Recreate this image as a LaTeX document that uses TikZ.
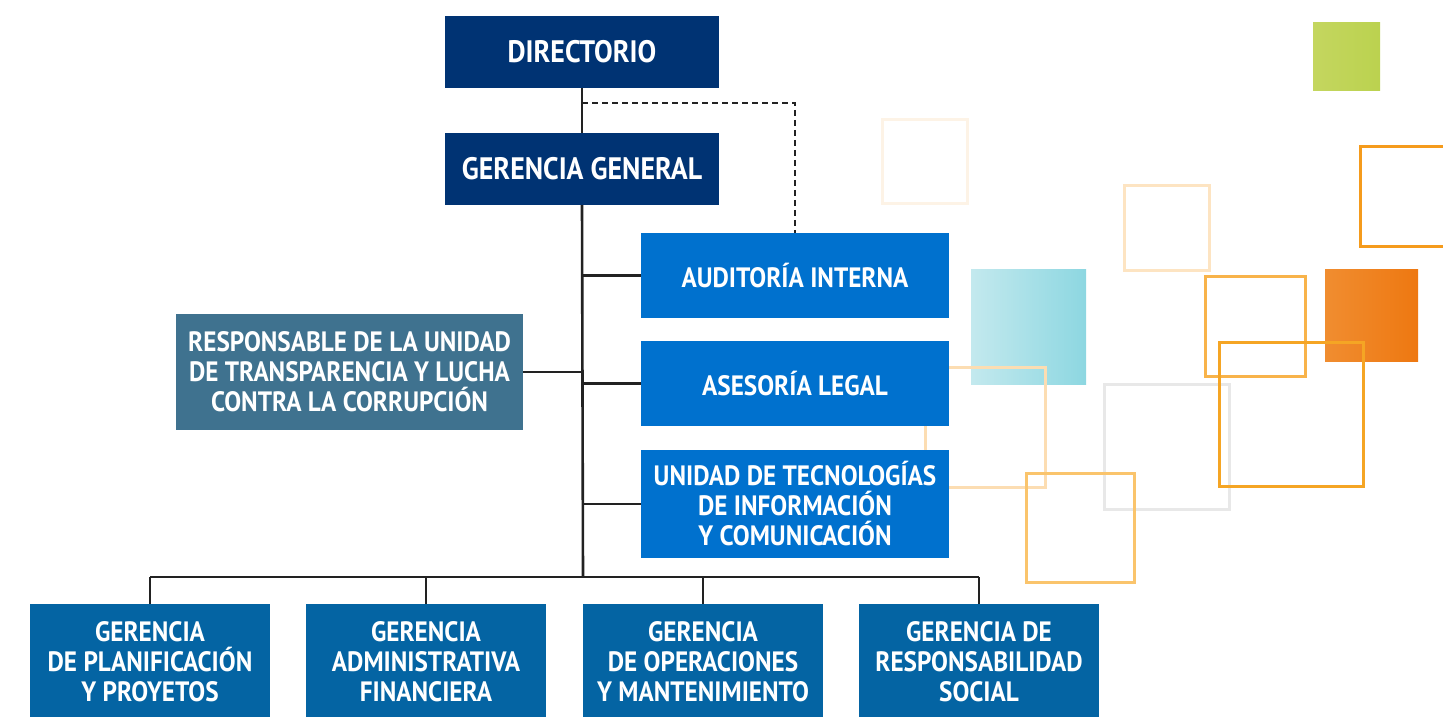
\documentclass[tikz,border=0pt]{standalone}
\usepackage{fontspec}
\setmainfont{PT Sans}[FakeStretch=0.9]
\usepackage{tikz}
\usetikzlibrary{
  calc,
  positioning
}
\definecolor{navyblue}{RGB}{0,51,115}
\definecolor{brightblue}{RGB}{0,113,206}
\definecolor{steelblue}{RGB}{63,114,143}
\definecolor{mgmtblue}{RGB}{4,100,163}
\definecolor{linkgray}{RGB}{34,34,34}
\definecolor{palepeach}{RGB}{253,243,230}
\definecolor{lightpeach}{RGB}{253,228,194}
\definecolor{softpeach}{RGB}{252,221,178}
\definecolor{deeporange}{RGB}{245,155,28}
\definecolor{midorange}{RGB}{248,179,74}
\definecolor{warmorange}{RGB}{245,165,36}
\definecolor{sandorange}{RGB}{250,196,108}
\definecolor{pearlgray}{RGB}{232,232,232}

\begin{document}
\begin{tikzpicture}[
  x=1pt, y=-1pt,
  box/.style={inner sep=0pt, outer sep=0pt, align=center, text=white,
              font=\fontsize{28}{30}\selectfont\bfseries},
  topbox/.style={box, fill=navyblue, minimum width=274pt, minimum height=72pt,
                 font=\fontsize{31}{32}\selectfont\bfseries},
  staff/.style={box, fill=brightblue, minimum width=308pt, minimum height=85pt},
  ethics/.style={box, fill=steelblue, minimum width=347pt, minimum height=116pt},
  mgmt/.style={box, fill=mgmtblue, minimum width=240pt, minimum height=116pt},
  link/.style={draw=linkgray, line width=2.6pt},
  dashlink/.style={link, dash pattern=on 6pt off 4pt},
  deco/.style={line width=3pt},
  node distance=45pt
]
\useasboundingbox (0,0) rectangle (1443,717);

% Background squares
\draw[deco, draw=palepeach] (882,119) rectangle (967,203);
\draw[deco, draw=lightpeach] (1124,185) rectangle (1209,270);
\draw[deco, draw=deeporange] (1360,146) rectangle (1460,246);
\shade[left color={rgb,255:red,196;green,214;blue,95}, right color={rgb,255:red,187;green,210;blue,79}]
  (1313,23) rectangle (1380,90);
\shade[left color={rgb,255:red,195;green,233;blue,238}, right color={rgb,255:red,141;green,215;blue,225}]
  (971,269) rectangle (1086,384);
\shade[left color={rgb,255:red,240;green,141;blue,48}, right color={rgb,255:red,238;green,120;blue,17}]
  (1325,269) rectangle (1418,361);
\draw[deco, draw=softpeach] (925,367) rectangle (1045,487);
\draw[deco, draw=pearlgray] (1104,384) rectangle (1229,509);
\draw[deco, draw=midorange] (1205,276) rectangle (1305,376);
\draw[deco, draw=warmorange] (1219,342) rectangle (1363,486);
\draw[deco, draw=sandorange] (1026,473) rectangle (1134,582);

% Chart
\node[topbox] at (582,52) (dir) {DIRECTORIO};
\node[topbox, below=of dir] (gg) {GERENCIA GENERAL};
\node[staff] at (795,275.5) (audit) {AUDITORÍA INTERNA};
\node[staff, below=23pt of audit] (legal) {ASESORÍA LEGAL};
\node[staff, minimum height=108pt, below=24pt of legal] (utic)
  {UNIDAD DE TECNOLOGÍAS\\DE INFORMACIÓN\\Y COMUNICACIÓN};
\node[ethics] at (349.5,372) (transp)
  {RESPONSABLE DE LA UNIDAD\\DE TRANSPARENCIA Y LUCHA\\CONTRA LA CORRUPCIÓN};

\node[mgmt] at (150,662) (gplan) {GERENCIA\\DE PLANIFICACIÓN\\Y PROYETOS};
\node[mgmt, right=36pt of gplan] (gadm) {GERENCIA\\ADMINISTRATIVA\\FINANCIERA};
\node[mgmt, right=37pt of gadm] (gop) {GERENCIA\\DE OPERACIONES\\Y MANTENIMIENTO};
\node[mgmt, right=36pt of gop] (grs) {GERENCIA DE\\RESPONSABILIDAD\\SOCIAL};

\coordinate (bus) at (583,577);
\coordinate (dz) at ($(dir.south)!0.33!(gg.north)$);

\draw[link] (dir.south) -- (gg.north);
\draw[link] (gg.south) -- (bus);
\draw[dashlink] (dz) -| (audit.north);
\draw[link] (gg.south |- audit.west) -- (audit.west);
\draw[link] (gg.south |- legal.west) -- (legal.west);
\draw[link] (gg.south |- utic.west) -- (utic.west);
\draw[link] (transp.east) -- (transp.east -| gg.south);
\draw[link] (bus -| gplan.north) -- (bus -| grs.north);
\draw[link] (bus -| gplan.north) -- (gplan.north);
\draw[link] (bus -| gadm.north) -- (gadm.north);
\draw[link] (bus -| gop.north) -- (gop.north);
\draw[link] (bus -| grs.north) -- (grs.north);

\end{tikzpicture}
\end{document}
